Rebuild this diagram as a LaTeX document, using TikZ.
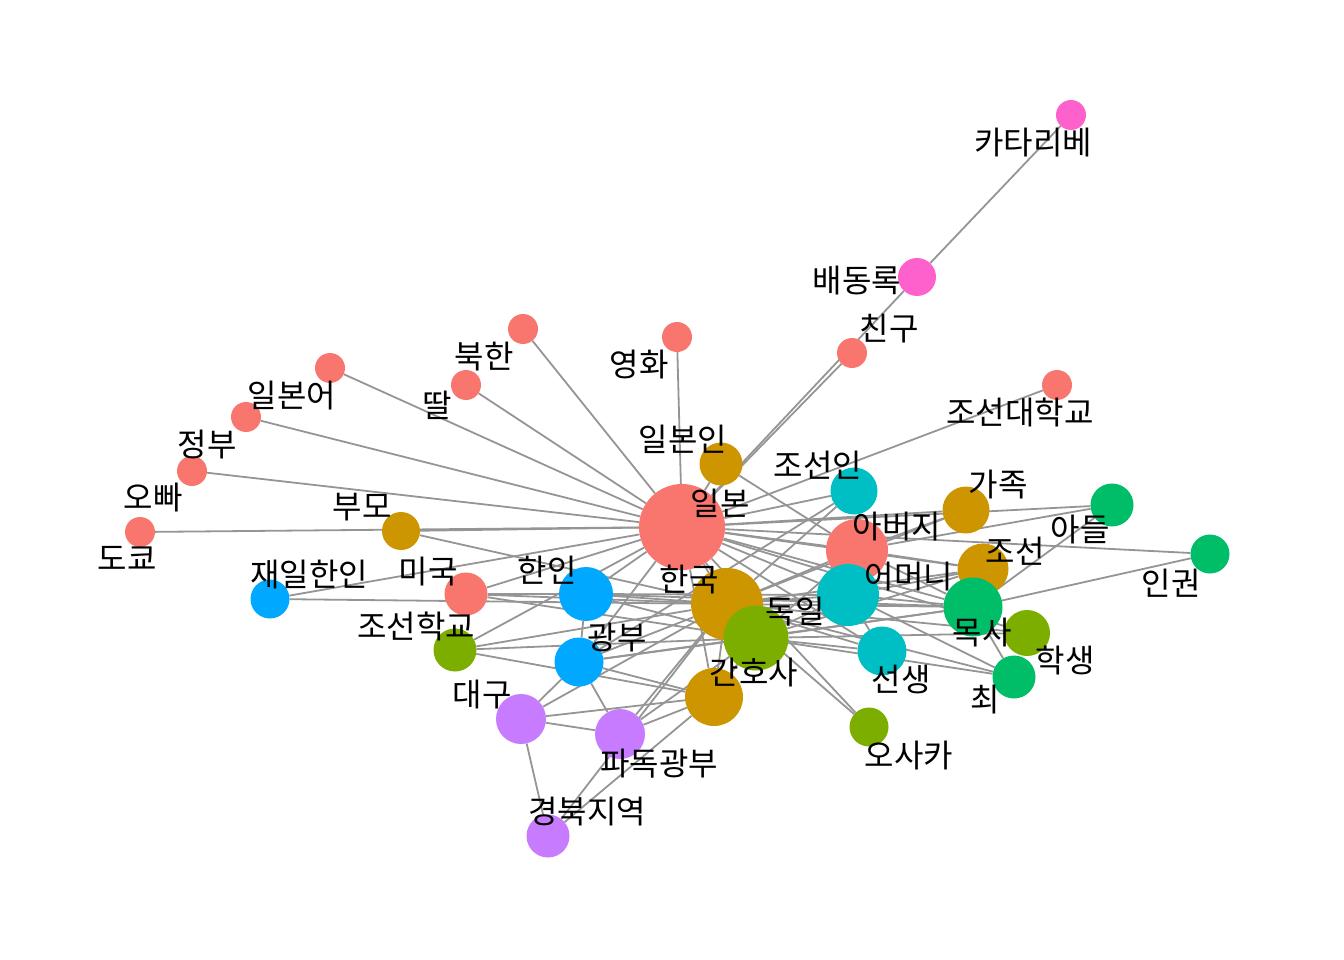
\documentclass[tikz,border=0pt]{standalone}
\usepackage{fontspec}
\setmainfont{Noto Sans CJK KR}
\usepackage{xcolor}
\usetikzlibrary{backgrounds}

%colours of the groups
\definecolor{grpsalmon}{HTML}{F8766D}
\definecolor{grpgold}{HTML}{CD9600}
\definecolor{grpolive}{HTML}{7CAE00}
\definecolor{grpgreen}{HTML}{00BE67}
\definecolor{grpteal}{HTML}{00BFC4}
\definecolor{grpblue}{HTML}{00A9FF}
\definecolor{grppurple}{HTML}{C77CFF}
\definecolor{grppink}{HTML}{FF61CC}
\definecolor{linkgray}{HTML}{959595}

\tikzset{
	vtx/.style={circle, inner sep=0pt, draw=none},
	link/.style={draw=linkgray, line width=1.8pt},
	lbl/.style={font=\fontsize{32}{34}\selectfont, inner sep=0pt, text=black}
}

\begin{document}
\begin{tikzpicture}[x=1pt, y=-1pt]
		%frame of the picture
		\useasboundingbox (0,0) rectangle (1344,960);
		
		%vertices: name/x/y/diameter/colour
		\foreach \n/\x/\y/\d/\c in {
			katalibe/1071/115/30/grppink, baedongrok/917/277/38/grppink,
			chingu/852/353/30/grpsalmon, yeonghwa/677/337/30/grpsalmon,
			bukhan/523/329/30/grpsalmon, ttal/466/385/30/grpsalmon,
			ilboneo/330/368/30/grpsalmon, jeongbu/246/417/30/grpsalmon,
			oppa/192/471/30/grpsalmon, dokyo/140/532/30/grpsalmon,
			joseondae/1057/385/30/grpsalmon,
			ilbonin/721/464/43/grpgold, joseonin/854/491/47/grpteal,
			ilbon/682/527/86/grpsalmon, bumo/401/531/38/grpgold,
			gajok/966/510/47/grpgold, adeul/1112/505/43/grpgreen,
			abeoji/857/550/62/grpsalmon, ingwon/1210/554/39/grpgreen,
			joseon/983/569/51/grpgold, eomeoni/848/595/62/grpteal,
			jaeil/270/599/39/grpblue, miguk/466/594/43/grpsalmon,
			hanin/586/594/54/grpblue, hanguk/727/604/72/grpgold,
			moksa/973/607/59/grpgreen, dogil/756/638/65/grpolive,
			haksaeng/1027/633/46/grpolive, joseonhak/455/650/43/grpolive,
			gwangbu/579/662/49/grpblue, seonsaeng/882/651/49/grpteal,
			choe/1014/677/43/grpgreen, ganhosa/714/697/58/grpgold,
			daegu/521/719/50/grppurple, padok/620/734/50/grppurple,
			osaka/869/727/39/grpolive, gyeongbuk/548/836/43/grppurple}
		\node [vtx, fill=\c, minimum size=\d pt] (\n) at (\x,\y) {};
		
		%connections
		\begin{scope}[on background layer]
			\foreach \a/\b in {
				katalibe/baedongrok, baedongrok/ilbon, chingu/ilbon, yeonghwa/ilbon,
				bukhan/ilbon, ttal/ilbon, ilboneo/ilbon, jeongbu/ilbon, oppa/ilbon,
				dokyo/ilbon, bumo/ilbon, bumo/hanguk, joseondae/ilbon,
				ilbonin/ilbon, ilbonin/abeoji, joseonin/ilbon, joseonin/hanguk,
				joseonin/gwangbu, gajok/ilbon, gajok/hanguk, gajok/abeoji,
				adeul/ilbon, adeul/abeoji, adeul/moksa, ingwon/ilbon, ingwon/moksa,
				moksa/ilbon, moksa/hanguk, moksa/dogil, moksa/eomeoni, moksa/abeoji,
				moksa/gwangbu, moksa/hanin, joseon/ilbon, joseon/hanguk,
				joseon/abeoji, joseon/eomeoni, joseon/dogil, haksaeng/dogil,
				haksaeng/hanguk, haksaeng/ilbon, choe/dogil, choe/eomeoni,
				choe/hanguk, choe/moksa, seonsaeng/dogil, seonsaeng/ilbon,
				seonsaeng/hanguk, seonsaeng/eomeoni, osaka/hanguk, osaka/ilbon,
				ganhosa/dogil, ganhosa/hanguk, ganhosa/ilbon, ganhosa/gwangbu,
				ganhosa/daegu, ganhosa/padok, ganhosa/gyeongbuk, padok/daegu,
				padok/gwangbu, padok/dogil, padok/hanguk, gyeongbuk/daegu,
				gyeongbuk/hanguk, daegu/gwangbu, daegu/hanguk, gwangbu/hanin,
				gwangbu/dogil, gwangbu/hanguk, gwangbu/ilbon, hanin/ilbon,
				hanin/hanguk, hanin/dogil, hanin/miguk, hanin/eomeoni,
				miguk/ilbon, miguk/hanguk, miguk/dogil, jaeil/ilbon, jaeil/hanguk,
				joseonhak/ilbon, joseonhak/hanguk, joseonhak/dogil, joseonhak/ganhosa,
				hanguk/ilbon, hanguk/dogil, hanguk/abeoji, hanguk/eomeoni,
				dogil/ilbon, dogil/abeoji, dogil/eomeoni, abeoji/eomeoni,
				abeoji/ilbon, eomeoni/ilbon}
			\draw [link] (\a) -- (\b);
		\end{scope}
		
		%labels: name/x/y/text
		\foreach \n/\x/\y/\t in {
			katalibe/1033/143/카타리베, baedongrok/857/281/배동록,
			chingu/889/329/친구, yeonghwa/639/365/영화, bukhan/484/357/북한,
			ttal/437/405/딸, ilboneo/292/396/일본어, jeongbu/207/445/정부,
			oppa/153/498/오빠, dokyo/127/558/도쿄, joseondae/1020/412/조선대학교,
			ilbonin/683/439/일본인, joseonin/818/465/조선인, ilbon/720/503/일본,
			bumo/362/507/부모, gajok/998/485/가족, adeul/1080/530/아들,
			abeoji/897/527/아버지, ingwon/1171/583/인권, joseon/1015/551/조선,
			eomeoni/909/577/어머니, jaeil/309/575/재일한인, miguk/428/572/미국,
			hanin/547/570/한인, hanguk/689/580/한국, moksa/982/633/목사,
			dogil/795/612/독일, haksaeng/1065/660/학생, joseonhak/416/626/조선학교,
			gwangbu/617/638/광부, seonsaeng/901/679/선생, choe/985/700/최,
			ganhosa/754/673/간호사, daegu/482/695/대구, padok/659/764/파독광부,
			osaka/909/756/오사카, gyeongbuk/587/812/경북지역}
		\node [lbl] (\n-t) at (\x,\y) {\t};
\end{tikzpicture}
\end{document}
